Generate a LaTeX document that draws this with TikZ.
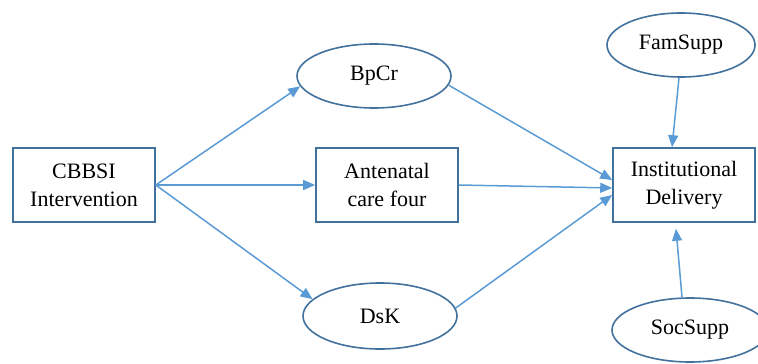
\documentclass[tikz,border=0pt]{standalone}
\usepackage{fontspec}
\setmainfont{Liberation Serif}
\usetikzlibrary{shapes.geometric,arrows.meta}
\definecolor{boxline}{RGB}{65,113,156}
\definecolor{arrline}{RGB}{91,155,213}
\tikzset{
  varbox/.style={draw=boxline, line width=0.8pt, minimum width=71pt, minimum height=37pt, align=center, inner sep=0pt},
  varell/.style={ellipse, draw=boxline, line width=0.8pt, minimum width=77pt, minimum height=32pt, inner sep=0pt},
  path/.style={->, draw=arrline, line width=0.75pt}
}
\begin{document}
\begin{tikzpicture}[x=0.5pt,y=-0.5pt,>={Triangle[length=6pt,width=5pt]},
  every node/.style={font=\fontsize{11}{14}\selectfont}]
\clip (0,0) rectangle (758,363);
\useasboundingbox (0,0) rectangle (758,363);
% variables
\node[varbox] (cbbsi) at (84,185) {CBBSI\\Intervention};
\node[varbox] (anc) at (387,185) {Antenatal\\care four};
\node[varbox] (inst) at (684,185) {Institutional\\Delivery};
\node[varell] (bpcr) at (374,76) {BpCr};
\node[varell, minimum height=33pt] (dsk) at (380,316) {DsK};
\node[varell, minimum width=74pt] (fam) at (681,45) {FamSupp};
\node[varell, minimum width=78pt] (soc) at (690,330) {SocSupp};
% paths
\draw[path] (cbbsi.east) -- (bpcr.188);
\draw[path] (cbbsi.east) -- (anc.west);
\draw[path] (cbbsi.east) -- (dsk.166);
\draw[path] (bpcr.353) -- ([yshift=2.5pt]inst.west);
\draw[path] (anc.east) -- ([yshift=-1.5pt]inst.west);
\draw[path] (dsk.6) -- ([yshift=-5pt]inst.west);
\draw[path] ([xshift=-1pt]fam.south) -- ([xshift=-6pt]inst.north);
\draw[path] ([xshift=-4pt]soc.north) -- ([xshift=-4pt,yshift=-3pt]inst.south);
\end{tikzpicture}
\end{document}
